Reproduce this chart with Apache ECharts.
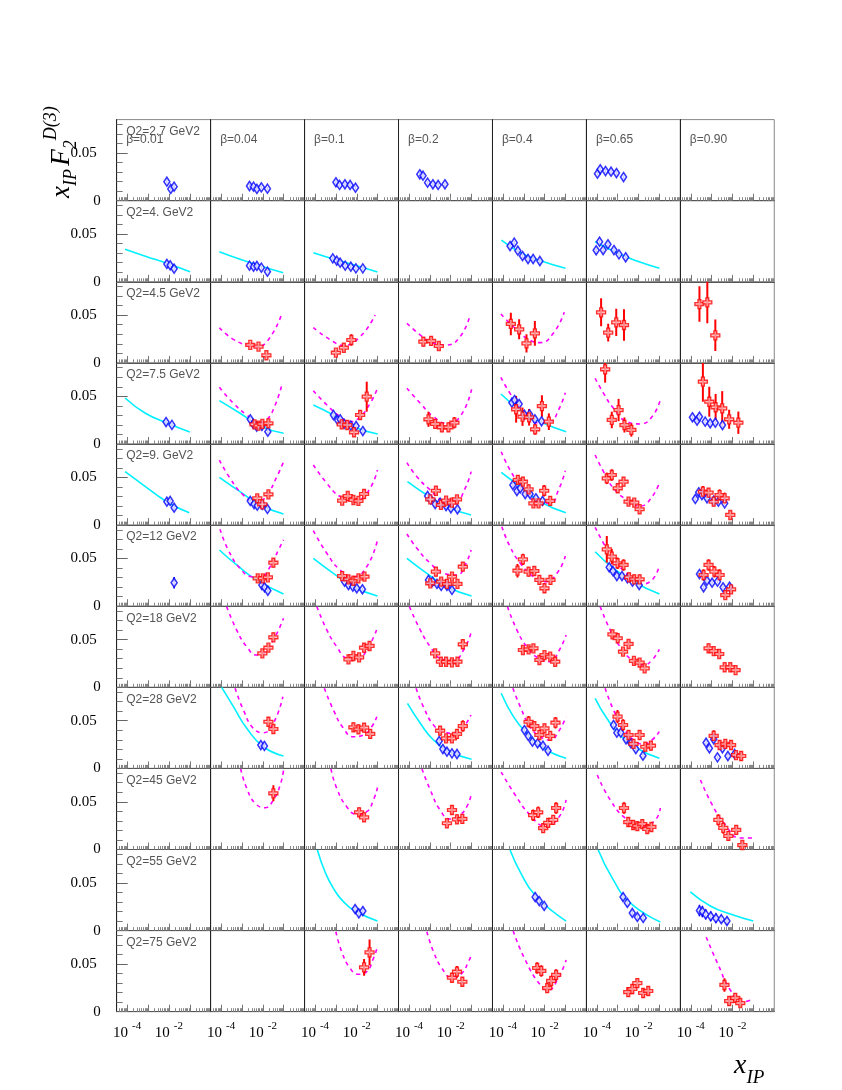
<!DOCTYPE html>
<html>
<head>
<meta charset="utf-8">
<title>xIP F2D(3)</title>
<script src="https://cdn.jsdelivr.net/npm/echarts@6/dist/echarts.min.js"></script>
<style>
  html, body { margin: 0; padding: 0; background: #fff; }
  #chart { width: 842px; height: 1090px; }
</style>
</head>
<body>
<div id="chart"></div>
<script>
// panel labels
const q2Labels = ['Q2=2.7 GeV2', 'Q2=4. GeV2', 'Q2=4.5 GeV2', 'Q2=7.5 GeV2', 'Q2=9. GeV2', 'Q2=12 GeV2',
  'Q2=18 GeV2', 'Q2=28 GeV2', 'Q2=45 GeV2', 'Q2=55 GeV2', 'Q2=75 GeV2'];
const betaLabels = ['β=0.01', 'β=0.04', 'β=0.1', 'β=0.2', 'β=0.4', 'β=0.65', 'β=0.90'];
const xTickLabels = [-4, -2];          // labelled decades of x_IP
const yTickLabels = [0, 0.05];

// [row, col, xIP, value, error]
const redPoints = [
  [2,1,2.5e-3,0.0188,0.003],[2,1,6.2e-3,0.017,0.003],[2,1,1.48e-2,0.008,0.003],
  [2,2,1.0e-3,0.0107,0.003],[2,2,2.4e-3,0.0159,0.004],[2,2,5.5e-3,0.024,0.006],
  [2,3,4.9e-4,0.0222,0.005],[2,3,1.15e-3,0.023,0.005],[2,3,2.7e-3,0.0177,0.004],
  [2,4,2.4e-4,0.0408,0.0117],[2,4,6.0e-4,0.0352,0.0105],[2,4,1.35e-3,0.0205,0.0096],[2,4,3.4e-3,0.031,0.013],
  [2,5,1.6e-4,0.053,0.0147],[2,5,3.5e-4,0.0317,0.0094],[2,5,8.5e-4,0.0425,0.0143],[2,5,2.0e-3,0.0397,0.0166],
  [2,6,2.6e-4,0.0617,0.0187],[2,6,6.2e-4,0.0635,0.022],[2,6,1.5e-3,0.0289,0.0165],

  [3,1,4.0e-3,0.0206,0.004],[3,1,6.2e-3,0.0192,0.004],[3,1,9.5e-3,0.021,0.004],[3,1,1.85e-2,0.0217,0.004],
  [3,2,1.9e-3,0.0206,0.005],[3,2,3.5e-3,0.0199,0.005],[3,2,7.4e-3,0.0123,0.004],[3,2,1.45e-2,0.0304,0.005],[3,2,3.0e-2,0.0496,0.0157],
  [3,3,8.6e-4,0.0259,0.0079],[3,3,1.8e-3,0.021,0.005],[3,3,3.8e-3,0.0175,0.005],[3,3,7.8e-3,0.0175,0.005],[3,3,1.5e-2,0.0223,0.006],
  [3,4,4.3e-4,0.0364,0.014],[3,4,8.7e-4,0.0286,0.0096],[3,4,1.8e-3,0.028,0.0087],[3,4,3.5e-3,0.0154,0.0056],[3,4,7.4e-3,0.0398,0.0113],[3,4,1.59e-2,0.0234,0.0087],
  [3,5,2.5e-4,0.0783,0.014],[3,5,5.2e-4,0.0252,0.0087],[3,5,1.1e-3,0.0356,0.0117],[3,5,2.1e-3,0.0199,0.0079],[3,5,4.5e-3,0.0147,0.007],
  [3,6,3.8e-4,0.0653,0.021],[3,6,7.7e-4,0.0443,0.0157],[3,6,1.55e-3,0.0385,0.014],[3,6,3.2e-3,0.0374,0.018],[3,6,6.9e-3,0.0259,0.01],[3,6,1.9e-2,0.0223,0.0117],

  [4,1,5.4e-3,0.0281,0.004],[4,1,9.4e-3,0.0218,0.004],[4,1,1.85e-2,0.0323,0.004],
  [4,2,2.0e-3,0.0256,0.004],[4,2,3.7e-3,0.0305,0.004],[4,2,6.9e-3,0.0263,0.004],[4,2,1.2e-2,0.0253,0.004],[4,2,2.24e-2,0.0326,0.005],
  [4,3,1.05e-3,0.027,0.004],[4,3,1.95e-3,0.036,0.004],[4,3,3.4e-3,0.0211,0.004],[4,3,6.0e-3,0.0256,0.004],[4,3,1.14e-2,0.0235,0.004],[4,3,2.0e-2,0.027,0.004],
  [4,4,5.2e-4,0.0473,0.005],[4,4,9.1e-4,0.0455,0.005],[4,4,1.7e-3,0.0375,0.005],[4,4,2.9e-3,0.0228,0.004],[4,4,5.1e-3,0.0228,0.004],[4,4,9.5e-3,0.036,0.006],[4,4,1.85e-2,0.0253,0.005],
  [4,5,3.0e-4,0.049,0.006],[4,5,5.2e-4,0.0525,0.006],[4,5,1.0e-3,0.0386,0.005],[4,5,1.9e-3,0.0455,0.005],[4,5,3.3e-3,0.0245,0.004],[4,5,6.2e-3,0.0235,0.004],[4,5,1.12e-2,0.0166,0.004],
  [4,6,3.8e-4,0.035,0.006],[4,6,7.1e-4,0.034,0.005],[4,6,1.25e-3,0.0245,0.005],[4,6,2.4e-3,0.0315,0.006],[4,6,4.2e-3,0.0281,0.006],[4,6,7.8e-3,0.0106,0.004],

  [5,1,5.7e-3,0.0292,0.004],[5,1,1.0e-2,0.0292,0.004],[5,1,1.74e-2,0.0303,0.004],[5,1,3.2e-2,0.0456,0.005],
  [5,2,2.0e-3,0.0316,0.004],[5,2,4.0e-3,0.0282,0.004],[5,2,6.9e-3,0.0267,0.004],[5,2,1.2e-2,0.0292,0.004],[5,2,2.34e-2,0.0309,0.004],
  [5,3,1.05e-3,0.024,0.004],[5,3,1.95e-3,0.0362,0.005],[5,3,3.5e-3,0.0257,0.004],[5,3,6.6e-3,0.0233,0.004],[5,3,1.15e-2,0.0309,0.004],[5,3,2.1e-2,0.0233,0.004],[5,3,3.8e-2,0.0414,0.005],
  [5,4,5.0e-4,0.0372,0.007],[5,4,9.1e-4,0.0491,0.006],[5,4,1.7e-3,0.0362,0.005],[5,4,3.2e-3,0.0369,0.005],[5,4,5.6e-3,0.0275,0.005],[5,4,9.8e-3,0.0188,0.005],[5,4,1.9e-2,0.0275,0.005],
  [5,5,3.0e-4,0.0596,0.014],[5,5,5.2e-4,0.0519,0.008],[5,5,9.8e-4,0.045,0.006],[5,5,1.9e-3,0.0432,0.006],[5,5,3.5e-3,0.0303,0.005],[5,5,6.2e-3,0.0282,0.005],[5,5,1.12e-2,0.0282,0.005],
  [5,6,4.1e-4,0.0327,0.006],[5,6,7.1e-4,0.0432,0.006],[5,6,1.35e-3,0.0362,0.006],[5,6,2.4e-3,0.0327,0.006],[5,6,4.5e-3,0.0117,0.004],[5,6,8.5e-3,0.0177,0.004],

  [6,1,9.5e-3,0.0356,0.004],[6,1,1.85e-2,0.0415,0.004],[6,1,3.2e-2,0.0524,0.005],
  [6,2,4.0e-3,0.0293,0.004],[6,2,6.9e-3,0.0328,0.004],[6,2,1.29e-2,0.0314,0.004],[6,2,2.24e-2,0.0415,0.005],[6,2,4.1e-2,0.0433,0.005],
  [6,3,1.8e-3,0.0356,0.004],[6,3,3.4e-3,0.0268,0.004],[6,3,6.0e-3,0.0268,0.004],[6,3,1.14e-2,0.0262,0.004],[6,3,2.1e-2,0.0268,0.004],[6,3,3.8e-2,0.0451,0.005],
  [6,4,9.1e-4,0.0391,0.004],[6,4,1.7e-3,0.0398,0.004],[6,4,2.9e-3,0.0409,0.004],[6,4,5.6e-3,0.0286,0.004],[6,4,9.8e-3,0.0338,0.004],[6,4,1.85e-2,0.0321,0.004],[6,4,3.2e-2,0.0268,0.004],
  [6,5,5.6e-4,0.0555,0.005],[6,5,1.0e-3,0.0514,0.005],[6,5,1.8e-3,0.0373,0.004],[6,5,3.3e-3,0.0454,0.004],[6,5,6.0e-3,0.0276,0.004],[6,5,1.12e-2,0.0258,0.004],[6,5,1.95e-2,0.0199,0.004],
  [6,6,7.1e-4,0.0409,0.005],[6,6,1.25e-3,0.038,0.004],[6,6,2.3e-3,0.0349,0.004],[6,6,4.2e-3,0.021,0.004],[6,6,7.8e-3,0.021,0.004],[6,6,1.4e-2,0.0181,0.004],

  [7,1,1.85e-2,0.0489,0.005],[7,1,3.2e-2,0.0413,0.005],
  [7,2,6.9e-3,0.0431,0.005],[7,2,1.2e-2,0.041,0.005],[7,2,2.24e-2,0.0427,0.005],[7,2,4.4e-2,0.0361,0.005],
  [7,3,3.1e-3,0.0395,0.005],[7,3,6.0e-3,0.0315,0.004],[7,3,1.14e-2,0.0315,0.004],[7,3,2.0e-2,0.0361,0.005],[7,3,3.8e-2,0.0444,0.006],
  [7,4,1.7e-3,0.0489,0.006],[7,4,3.2e-3,0.0444,0.005],[7,4,5.6e-3,0.035,0.005],[7,4,9.8e-3,0.042,0.005],[7,4,1.85e-2,0.034,0.005],[7,4,3.3e-2,0.0479,0.006],
  [7,5,9.8e-4,0.0542,0.007],[7,5,1.8e-3,0.0455,0.006],[7,5,3.3e-3,0.035,0.005],[7,5,5.7e-3,0.0256,0.004],[7,5,1.12e-2,0.035,0.005],[7,5,2.1e-2,0.0227,0.004],[7,5,3.9e-2,0.0238,0.005],
  [7,6,1.25e-3,0.034,0.006],[7,6,2.4e-3,0.0245,0.005],[7,6,4.5e-3,0.0256,0.005],[7,6,8.5e-3,0.0245,0.005],[7,6,1.48e-2,0.014,0.004],[7,6,2.6e-2,0.013,0.005],

  [8,1,3.2e-2,0.0589,0.0084],
  [8,2,1.29e-2,0.039,0.005],[8,2,2.24e-2,0.0337,0.005],
  [8,3,6.6e-3,0.0275,0.004],[8,3,1.15e-2,0.0414,0.005],[8,3,2.0e-2,0.0316,0.005],[8,3,3.6e-2,0.032,0.005],
  [8,4,2.8e-3,0.036,0.006],[8,4,4.9e-3,0.039,0.006],[8,4,8.5e-3,0.0225,0.005],[8,4,1.48e-2,0.028,0.005],[8,4,2.57e-2,0.031,0.005],[8,4,3.55e-2,0.0435,0.006],
  [8,5,2.0e-3,0.0435,0.006],[8,5,3.2e-3,0.0288,0.005],[8,5,5.5e-3,0.0257,0.005],[8,5,8.7e-3,0.0246,0.005],[8,5,1.5e-2,0.0267,0.005],[8,5,2.6e-2,0.0215,0.005],[8,5,4.1e-2,0.0236,0.005],
  [8,6,2.1e-3,0.031,0.006],[8,6,3.6e-3,0.0226,0.006],[8,6,6.3e-3,0.0142,0.005],[8,6,1.5e-2,0.0205,0.005],[8,6,2.95e-2,0.0047,0.004],

  [10,2,2.24e-2,0.0465,0.0087],[10,2,4.1e-2,0.0622,0.0136],
  [10,3,1.15e-2,0.0356,0.005],[10,3,2.0e-2,0.0419,0.006],[10,3,3.6e-2,0.0314,0.005],
  [10,4,4.4e-3,0.0458,0.006],[10,4,6.9e-3,0.0427,0.006],[10,4,1.32e-2,0.0248,0.005],[10,4,2.05e-2,0.0322,0.005],[10,4,3.55e-2,0.0385,0.006],
  [10,5,3.2e-3,0.0206,0.005],[10,5,5.0e-3,0.0238,0.005],[10,5,8.7e-3,0.03,0.005],[10,5,1.66e-2,0.0196,0.005],[10,5,2.9e-2,0.0217,0.005],
  [10,6,4.1e-3,0.028,0.007],[10,6,6.9e-3,0.0112,0.005],[10,6,1.35e-2,0.0144,0.005],[10,6,2.35e-2,0.0091,0.004]
];

// [row, col, xIP, value, error]
const bluePoints = [
  [0,0,8e-3,0.0199,0.002],[0,0,1.23e-2,0.0123,0.002],[0,0,1.78e-2,0.0147,0.003],
  [0,1,2.3e-3,0.0154,0.002],[0,1,3.6e-3,0.0147,0.002],[0,1,5.2e-3,0.0123,0.002],[0,1,8.5e-3,0.014,0.002],[0,1,1.66e-2,0.0126,0.002],
  [0,2,1.0e-3,0.0193,0.002],[0,2,1.5e-3,0.0165,0.002],[0,2,2.7e-3,0.0172,0.002],[0,2,4.8e-3,0.0165,0.002],[0,2,8.7e-3,0.0136,0.002],
  [0,3,3.3e-4,0.0277,0.002],[0,3,4.7e-4,0.0262,0.002],[0,3,7.8e-4,0.0189,0.002],[0,3,1.4e-3,0.0172,0.002],[0,3,2.5e-3,0.0165,0.002],[0,3,5.3e-3,0.0172,0.002],
  [0,5,1.07e-4,0.0283,0.002],[0,5,1.45e-4,0.0329,0.002],[0,5,2.6e-4,0.0311,0.002],[0,5,4.8e-4,0.0304,0.002],[0,5,8.7e-4,0.029,0.002],[0,5,1.9e-3,0.0248,0.002],

  [1,0,8e-3,0.0187,0.002],[1,0,1.15e-2,0.0173,0.002],[1,0,1.78e-2,0.0137,0.002],
  [1,1,2.3e-3,0.0169,0.002],[1,1,3.6e-3,0.0158,0.002],[1,1,5.2e-3,0.0166,0.002],[1,1,8.5e-3,0.0148,0.002],[1,1,1.66e-2,0.0106,0.002],
  [1,2,7.1e-4,0.0246,0.002],[1,2,1.1e-3,0.0221,0.002],[1,2,1.6e-3,0.02,0.002],[1,2,2.8e-3,0.0169,0.002],[1,2,5.2e-3,0.0158,0.002],[1,2,9.1e-3,0.0141,0.002],[1,2,1.95e-2,0.0141,0.002],
  [1,4,2.2e-4,0.0375,0.002],[1,4,3.5e-4,0.041,0.002],[1,4,5.2e-4,0.0326,0.002],[1,4,8.7e-4,0.027,0.002],[1,4,1.6e-3,0.0239,0.002],[1,4,2.8e-3,0.0239,0.002],[1,4,5.9e-3,0.0218,0.002],
  [1,5,9.3e-5,0.033,0.002],[1,5,1.35e-4,0.042,0.002],[1,5,2.0e-4,0.0333,0.002],[1,5,3.4e-4,0.0393,0.002],[1,5,6.6e-4,0.0333,0.002],[1,5,1.15e-3,0.0288,0.002],[1,5,2.4e-3,0.0257,0.002],

  [3,0,7.3e-3,0.023,0.002],[3,0,1.4e-2,0.02,0.002],
  [3,1,2.5e-3,0.0259,0.002],[3,1,3.5e-3,0.021,0.002],[3,1,5.1e-3,0.0181,0.002],[3,1,9.1e-3,0.0189,0.002],[3,1,1.74e-2,0.0129,0.002],
  [3,2,7.6e-4,0.0304,0.002],[3,2,1.2e-3,0.0252,0.002],[3,2,1.6e-3,0.0259,0.002],[3,2,2.5e-3,0.021,0.002],[3,2,5.2e-3,0.0192,0.002],[3,2,9.3e-3,0.0189,0.002],[3,2,1.95e-2,0.0136,0.002],
  [3,4,2.7e-4,0.0433,0.002],[3,4,3.6e-4,0.0461,0.002],[3,4,6.0e-4,0.0419,0.002],[3,4,1.07e-3,0.0307,0.002],[3,4,1.9e-3,0.0311,0.002],[3,4,3.4e-3,0.0259,0.002],[3,4,7.1e-3,0.0238,0.002],
  [3,6,1.2e-4,0.028,0.002],[3,6,2.0e-4,0.0244,0.002],[3,6,2.6e-4,0.0286,0.002],[3,6,4.9e-4,0.0234,0.002],[3,6,8.5e-4,0.0217,0.002],[3,6,1.5e-3,0.0223,0.002],[3,6,3.3e-3,0.0199,0.002],

  [4,0,8e-3,0.0245,0.002],[4,0,1.15e-2,0.0253,0.002],[4,0,1.78e-2,0.0182,0.003],
  [4,1,2.5e-3,0.0253,0.002],[4,1,3.8e-3,0.0221,0.002],[4,1,5.4e-3,0.0203,0.002],[4,1,9.4e-3,0.0211,0.002],[4,1,1.66e-2,0.0169,0.002],
  [4,3,7.8e-4,0.0305,0.002],[4,3,1.1e-3,0.027,0.002],[4,3,1.8e-3,0.0221,0.002],[4,3,3.1e-3,0.0235,0.002],[4,3,6.0e-3,0.02,0.002],[4,3,1.02e-2,0.0176,0.002],[4,3,2.1e-2,0.0166,0.002],
  [4,4,3.0e-4,0.042,0.002],[4,4,4.7e-4,0.0357,0.002],[4,4,6.8e-4,0.0386,0.002],[4,4,1.17e-3,0.0326,0.002],[4,4,2.0e-3,0.0326,0.002],[4,4,3.8e-3,0.0281,0.002],[4,4,7.9e-3,0.0253,0.002],
  [4,6,1.65e-4,0.0274,0.002],[4,6,2.4e-4,0.0344,0.002],[4,6,3.4e-4,0.0315,0.002],[4,6,6.0e-4,0.0281,0.002],[4,6,1.25e-3,0.0256,0.002],[4,6,2.1e-3,0.0245,0.002],[4,6,4.2e-3,0.0228,0.002],

  [5,0,1.78e-2,0.0246,0.006],
  [5,1,9.0e-3,0.0222,0.002],[5,1,1.21e-2,0.0198,0.002],[5,1,1.74e-2,0.0162,0.002],
  [5,2,2.6e-3,0.0257,0.002],[5,2,4.0e-3,0.0222,0.002],[5,2,6.5e-3,0.0204,0.002],[5,2,1.0e-2,0.0188,0.002],[5,2,1.86e-2,0.0177,0.002],
  [5,3,8.6e-4,0.0275,0.002],[5,3,1.35e-3,0.0257,0.002],[5,3,2.2e-3,0.0233,0.002],[5,3,3.5e-3,0.0212,0.002],[5,3,6.6e-3,0.0212,0.002],[5,3,1.15e-2,0.017,0.002],
  [5,5,3.9e-4,0.0408,0.002],[5,5,5.9e-4,0.0369,0.002],[5,5,9.1e-4,0.0316,0.002],[5,5,1.6e-3,0.0316,0.002],[5,5,2.9e-3,0.0292,0.002],[5,5,5.1e-3,0.0257,0.002],[5,5,1.07e-2,0.0222,0.002],
  [5,6,2.6e-4,0.0337,0.002],[5,6,4.1e-4,0.0198,0.002],[5,6,6.0e-4,0.0267,0.002],[5,6,1.05e-3,0.0246,0.002],[5,6,1.9e-3,0.0257,0.002],[5,6,3.5e-3,0.0198,0.002],[5,6,7.2e-3,0.0204,0.002],

  [7,1,8.0e-3,0.0245,0.002],[7,1,1.19e-2,0.0235,0.002],
  [7,3,2.8e-3,0.0287,0.002],[7,3,4.2e-3,0.0203,0.002],[7,3,6.6e-3,0.0175,0.002],[7,3,1.15e-2,0.0158,0.002],[7,3,2.0e-2,0.0151,0.002],
  [7,4,1.07e-3,0.0402,0.002],[7,4,1.65e-3,0.034,0.002],[7,4,2.6e-3,0.028,0.002],[7,4,4.6e-3,0.0263,0.002],[7,4,8.3e-3,0.0238,0.002],[7,4,1.45e-2,0.0185,0.002],
  [7,5,6.3e-4,0.0455,0.002],[7,5,9.1e-4,0.0374,0.002],[7,5,1.4e-3,0.0374,0.002],[7,5,2.5e-3,0.0305,0.002],[7,5,4.3e-3,0.0263,0.002],[7,5,7.4e-3,0.0203,0.002],[7,5,1.62e-2,0.0133,0.002],
  [7,6,5.4e-4,0.0269,0.002],[7,6,7.8e-4,0.0211,0.002],[7,6,1.25e-3,0.0305,0.002],[7,6,1.9e-3,0.0116,0.002],[7,6,3.3e-3,0.0211,0.002],[7,6,6.0e-3,0.013,0.002],[7,6,1.26e-2,0.0151,0.002],

  [9,2,8.3e-3,0.0226,0.003],[9,2,1.26e-2,0.0181,0.003],[9,2,1.95e-2,0.0205,0.003],
  [9,4,3.5e-3,0.0352,0.003],[9,4,5.5e-3,0.031,0.003],[9,4,9.5e-3,0.0259,0.003],
  [9,5,1.8e-3,0.0352,0.004],[9,5,2.9e-3,0.029,0.004],[9,5,5.0e-3,0.0185,0.003],[9,5,8.7e-3,0.0143,0.003],[9,5,1.66e-2,0.0133,0.003],
  [9,6,2.6e-4,0.021,0.006],[9,6,3.6e-4,0.02,0.006],[9,6,5.2e-4,0.017,0.005],[9,6,9.0e-4,0.015,0.005],[9,6,1.6e-3,0.013,0.005],[9,6,2.9e-3,0.012,0.004],[9,6,5.4e-3,0.01,0.004]
];

// model curves, sampled along the drawn line: [row, col, xIP, value]
const cyanCurves = [
  [1,0,7.9e-5,0.034],[1,0,8.7e-4,0.0263],[1,0,7.9e-3,0.0194],[1,0,0.102,0.0106],
  [1,1,8.3e-5,0.0315],[1,1,8.1e-4,0.0236],[1,1,7.2e-3,0.0169],[1,1,0.095,0.0095],
  [1,2,8.3e-5,0.0305],[1,2,7.6e-4,0.0239],[1,2,0.01,0.0169],[1,2,0.098,0.0103],
  [1,4,8.5e-5,0.0438],[1,4,9.8e-4,0.0288],[1,4,8.9e-3,0.0211],[1,4,0.1,0.0141],
  [1,5,8.3e-5,0.042],[1,5,1.3e-3,0.0288],[1,5,8.3e-3,0.0218],[1,5,0.1,0.0141],
  [3,0,8e-5,0.0482],[3,0,7.2e-4,0.0325],[3,0,8.1e-3,0.022],[3,0,0.1,0.0126],
  [3,1,8.3e-5,0.0454],[3,1,8.1e-4,0.0322],[3,1,7.4e-3,0.0189],[3,1,0.098,0.0112],
  [3,2,8.3e-5,0.0409],[3,2,7.6e-4,0.0304],[3,2,6.9e-3,0.0181],[3,2,0.1,0.0105],
  [3,4,8e-5,0.0524],[3,4,6.8e-4,0.0356],[3,4,6.2e-3,0.0234],[3,4,0.107,0.0129],
  [4,0,8e-5,0.056],[4,0,6e-4,0.042],[4,0,7.9e-3,0.0245],[4,0,0.095,0.013],
  [4,1,8.3e-5,0.0501],[4,1,8.1e-4,0.035],[4,1,7.4e-3,0.0211],[4,1,0.098,0.0116],
  [4,3,8.5e-5,0.0455],[4,3,7.2e-4,0.0315],[4,3,6.6e-3,0.0193],[4,3,0.095,0.0106],
  [4,4,8.3e-5,0.0553],[4,4,6.8e-4,0.0402],[4,4,6.2e-3,0.0245],[4,4,0.104,0.013],
  [5,1,8.3e-5,0.0589],[5,1,5.6e-4,0.0432],[5,1,5.1e-3,0.0275],[5,1,0.098,0.0128],
  [5,2,8.3e-5,0.0502],[5,2,7.6e-4,0.0345],[5,2,6.9e-3,0.0204],[5,2,0.098,0.0107],
  [5,3,8e-5,0.0502],[5,3,7.2e-4,0.0345],[5,3,6.6e-3,0.0204],[5,3,0.1,0.0107],
  [5,5,8.3e-5,0.0571],[5,5,6.3e-4,0.0397],[5,5,5.7e-3,0.0257],[5,5,0.1,0.0128],
  [7,1,1.07e-4,0.085],[7,1,3.9e-4,0.0647],[7,1,1.7e-3,0.042],[7,1,0.0107,0.0227],[7,1,0.098,0.013],
  [7,3,8.5e-5,0.0682],[7,3,3.5e-4,0.0473],[7,3,1.5e-3,0.0298],[7,3,9.3e-3,0.0175],[7,3,0.1,0.0095],
  [7,4,8.3e-5,0.0787],[7,4,3.2e-4,0.0542],[7,4,1.4e-3,0.0368],[7,4,8.9e-3,0.0211],[7,4,0.107,0.0106],
  [7,5,8.3e-5,0.0735],[7,5,3.0e-4,0.0525],[7,5,1.3e-3,0.035],[7,5,8.3e-3,0.0211],[7,5,0.1,0.0106],
  [9,2,1.3e-4,0.0845],[9,2,3.0e-4,0.0617],[9,2,7.6e-4,0.0443],[9,2,2.3e-3,0.0303],[9,2,0.01,0.0198],[9,2,0.098,0.0101],
  [9,4,2.2e-4,0.0845],[9,4,6.8e-4,0.0614],[9,4,3.5e-3,0.037],[9,4,0.107,0.01],
  [9,5,1.17e-4,0.0845],[9,5,5.5e-4,0.055],[9,5,4e-3,0.029],[9,5,0.11,0.009],
  [9,6,9.5e-5,0.0405],[9,6,8.6e-4,0.0258],[9,6,7.8e-3,0.0174],[9,6,0.098,0.01]
];

const magentaCurves = [
  [2,1,8.3e-5,0.0369],[2,1,3.9e-4,0.0247],[2,1,2.5e-3,0.0177],[2,1,4.3e-3,0.017],[2,1,0.0155,0.0222],[2,1,0.078,0.0502],
  [2,2,8.3e-5,0.0369],[2,2,7.6e-4,0.0222],[2,2,2.3e-3,0.0184],[2,2,0.0145,0.0275],[2,2,0.076,0.0502],
  [2,3,8e-5,0.0415],[2,3,3.5e-4,0.0292],[2,3,1.5e-3,0.0205],[2,3,6.6e-3,0.0188],[2,3,0.028,0.0275],[2,3,0.079,0.0478],
  [2,4,8e-5,0.0512],[2,4,3.2e-4,0.0379],[2,4,1.4e-3,0.0258],[2,4,6.2e-3,0.0212],[2,4,0.026,0.031],[2,4,0.087,0.053],
  [3,1,8.3e-5,0.0594],[3,1,3.9e-4,0.0427],[3,1,1.7e-3,0.0304],[3,1,6.2e-3,0.0217],[3,1,0.0155,0.0252],[3,1,0.039,0.0409],[3,1,0.081,0.0618],
  [3,2,8.3e-5,0.0559],[3,2,3.7e-4,0.0409],[3,2,1.6e-3,0.0286],[3,2,4.8e-3,0.0234],[3,2,0.0145,0.0286],[3,2,0.044,0.0427],[3,2,0.091,0.0566],
  [3,3,8e-5,0.0584],[3,3,3.5e-4,0.0427],[3,3,1.5e-3,0.0286],[3,3,6.6e-3,0.0217],[3,3,0.028,0.0286],[3,3,0.1,0.0573],
  [3,4,8e-5,0.0699],[3,4,2.2e-4,0.0531],[3,4,9.8e-4,0.0339],[3,4,4.3e-3,0.0223],[3,4,0.0185,0.0234],[3,4,0.046,0.0356],[3,4,0.098,0.0538],
  [3,5,8.3e-5,0.0689],[3,5,2.1e-4,0.0531],[3,5,6.3e-4,0.0374],[3,5,2.8e-3,0.0234],[3,5,0.012,0.021],[3,5,0.044,0.0286],[3,5,0.11,0.0461],
  [4,1,8.3e-5,0.0682],[4,1,2.7e-4,0.049],[4,1,1.17e-3,0.0315],[4,1,5.1e-3,0.0235],[4,1,0.0155,0.0315],[4,1,0.047,0.0507],[4,1,0.098,0.0664],
  [4,2,8.3e-5,0.063],[4,2,3.7e-4,0.0438],[4,2,1.6e-3,0.0298],[4,2,6.9e-3,0.0256],[4,2,0.03,0.0333],[4,2,0.098,0.0577],
  [4,3,8e-5,0.0654],[4,3,2.4e-4,0.0507],[4,3,1.05e-3,0.0368],[4,3,4.5e-3,0.0263],[4,3,0.02,0.027],[4,3,0.049,0.0386],[4,3,0.095,0.056],
  [4,4,8.3e-5,0.0769],[4,4,2.2e-4,0.0577],[4,4,9.8e-4,0.0368],[4,4,4.3e-3,0.0245],[4,4,0.0185,0.0228],[4,4,0.046,0.0368],[4,4,0.098,0.057],
  [4,5,8.3e-5,0.0735],[4,5,2.1e-4,0.056],[4,5,6.3e-4,0.0386],[4,5,2.8e-3,0.0263],[4,5,0.012,0.02],[4,5,0.036,0.027],[4,5,0.1,0.0444],
  [5,1,8.9e-5,0.0806],[5,1,2.2e-4,0.0589],[5,1,8.1e-4,0.0397],[5,1,2.9e-3,0.0309],[5,1,7.4e-3,0.0303],[5,1,0.0224,0.0414],[5,1,0.056,0.0589],[5,1,0.098,0.0694],
  [5,2,8.3e-5,0.0791],[5,2,3.7e-4,0.0554],[5,2,1.6e-3,0.0379],[5,2,6.9e-3,0.0309],[5,2,0.03,0.0414],[5,2,0.098,0.0694],
  [5,3,8e-5,0.0757],[5,3,2.4e-4,0.0607],[5,3,1.05e-3,0.045],[5,3,4.5e-3,0.0345],[5,3,0.02,0.0327],[5,3,0.049,0.0432],[5,3,0.095,0.0589],
  [5,4,8.9e-5,0.0833],[5,4,2.2e-4,0.0624],[5,4,6.8e-4,0.045],[5,4,2.9e-3,0.0309],[5,4,0.0107,0.0257],[5,4,0.039,0.0345],[5,4,0.098,0.0526],
  [5,5,8.3e-5,0.0827],[5,5,2.1e-4,0.0659],[5,5,6.3e-4,0.0484],[5,5,2.8e-3,0.0345],[5,5,0.012,0.0233],[5,5,0.044,0.0275],[5,5,0.1,0.0432],
  [6,1,1.86e-4,0.0845],[6,1,5.6e-4,0.06],[6,1,1.7e-3,0.0425],[6,1,5.1e-3,0.0338],[6,1,0.0107,0.0356],[6,1,0.032,0.0496],[6,1,0.098,0.0723],
  [6,2,1.23e-4,0.0845],[6,2,3.7e-4,0.06],[6,2,1.1e-3,0.0425],[6,2,3.3e-3,0.0304],[6,2,0.01,0.0286],[6,2,0.03,0.0391],[6,2,0.091,0.0608],
  [6,3,1.05e-4,0.0845],[6,3,3.5e-4,0.06],[6,3,1.05e-3,0.0425],[6,3,3.1e-3,0.0304],[6,3,0.0135,0.0279],[6,3,0.041,0.0391],[6,3,0.093,0.0566],
  [6,4,1.66e-4,0.0845],[6,4,4.7e-4,0.06],[6,4,1.4e-3,0.0425],[6,4,5.1e-3,0.0304],[6,4,0.0185,0.0268],[6,4,0.046,0.0373],[6,4,0.107,0.0548],
  [6,5,1.45e-4,0.0845],[6,5,4.4e-4,0.06],[6,5,1.3e-3,0.0425],[6,5,4.8e-3,0.0286],[6,5,0.0174,0.0234],[6,5,0.044,0.0286],[6,5,0.098,0.0398],
  [7,1,4.7e-4,0.0839],[7,1,1.17e-3,0.0612],[7,1,3.5e-3,0.042],[7,1,0.0107,0.0374],[7,1,0.032,0.0473],[7,1,0.091,0.0751],
  [7,2,2.8e-4,0.0839],[7,2,7.6e-4,0.0612],[7,2,2.3e-3,0.042],[7,2,6.9e-3,0.0332],[7,2,0.021,0.035],[7,2,0.052,0.0437],[7,2,0.091,0.0542],
  [7,3,2.2e-4,0.0839],[7,3,4.9e-4,0.0647],[7,3,1.5e-3,0.0455],[7,3,4.5e-3,0.0385],[7,3,0.0135,0.0368],[7,3,0.041,0.0437],[7,3,0.093,0.056],
  [7,4,3.0e-4,0.0839],[7,4,6.8e-4,0.0647],[7,4,2.0e-3,0.0437],[7,4,6.2e-3,0.0332],[7,4,0.0185,0.0298],[7,4,0.046,0.0385],[7,4,0.107,0.0542],
  [7,5,2.5e-4,0.0839],[7,5,6.3e-4,0.0612],[7,5,1.9e-3,0.042],[7,5,5.7e-3,0.0298],[7,5,0.0174,0.0256],[7,5,0.044,0.0298],[7,5,0.098,0.0385],
  [8,1,8.7e-4,0.0844],[8,1,1.7e-3,0.0641],[8,1,4.3e-3,0.0484],[8,1,0.0129,0.0438],[8,1,0.032,0.0519],[8,1,0.068,0.0676],[8,1,0.098,0.0833],
  [8,2,5.8e-4,0.0844],[8,2,1.1e-3,0.0641],[8,2,3.3e-3,0.0449],[8,2,0.01,0.0369],[8,2,0.03,0.0396],[8,2,0.063,0.0519],[8,2,0.098,0.0648],
  [8,3,4.2e-4,0.0844],[8,3,1.05e-3,0.0624],[8,3,3.1e-3,0.0414],[8,3,9.3e-3,0.032],[8,3,0.028,0.0362],[8,3,0.059,0.0449],[8,3,0.093,0.0564],
  [8,4,8.3e-5,0.0812],[8,4,3.9e-4,0.0571],[8,4,2e-3,0.0362],[8,4,0.0107,0.0246],[8,4,0.045,0.033],[8,4,0.107,0.0519],
  [8,5,1.05e-4,0.0781],[8,5,4.4e-4,0.0519],[8,5,2.3e-3,0.033],[8,5,0.015,0.0246],[8,5,0.063,0.0309],[8,5,0.11,0.0435],
  [8,6,2.9e-4,0.0729],[8,6,1.07e-3,0.0467],[8,6,4.5e-3,0.0257],[8,6,0.0235,0.012],[8,6,0.089,0.012],
  [10,2,1.0e-3,0.0838],[10,2,1.9e-3,0.0629],[10,2,4.8e-3,0.0455],[10,2,0.012,0.0392],[10,2,0.03,0.0419],[10,2,0.063,0.056],[10,2,0.098,0.0681],
  [10,3,7.2e-4,0.0838],[10,3,1.5e-3,0.0629],[10,3,3.8e-3,0.0455],[10,3,0.0115,0.0356],[10,3,0.034,0.0402],[10,3,0.071,0.0524],[10,3,0.1,0.0602],
  [10,4,3.1e-4,0.0847],[10,4,1.17e-3,0.0543],[10,4,6.2e-3,0.028],[10,4,0.0148,0.0228],[10,4,0.045,0.0353],[10,4,0.107,0.0542],
  [10,6,5.5e-4,0.0781],[10,6,2.1e-3,0.0487],[10,6,7.8e-3,0.0227],[10,6,0.0295,0.010],[10,6,0.071,0.0122]
];

// layout (pixels) and axis ranges; x axis runs in log10(x_IP)
const LEFT = 116.7, COLW = 93.94, TOP = 119.6, ROWH = 81.1;
const XMIN = -4.5, XMAX = 0, YMAX = 0.085;
const NROW = 11, NCOL = 7;

const lg = Math.log10;
const majorX = [-4, -3, -2, -1];
const minorX = [];
for (let n = -5; n < 0; n++) {
  for (let k = 2; k <= 9; k++) {
    const v = n + lg(k);
    if (v > XMIN && v < XMAX) minorX.push(v);
  }
}
const minorY = [0.01, 0.02, 0.03, 0.04, 0.06, 0.07, 0.08];

function pick(list, r, c) {
  return list.filter(p => p[0] === r && p[1] === c);
}

function errorBars(pts, color, width, i) {
  return {
    type: 'custom',
    xAxisIndex: 2 * i,
    yAxisIndex: 2 * i,
    clip: true,
    silent: true,
    z: 3,
    encode: { x: 0, y: [1, 2] },
    data: pts.map(p => [lg(p[2]), p[3] - p[4], p[3] + p[4]]),
    renderItem: (params, api) => {
      const a = api.coord([api.value(0), api.value(1)]);
      const b = api.coord([api.value(0), api.value(2)]);
      return {
        type: 'line',
        shape: { x1: a[0], y1: a[1], x2: b[0], y2: b[1] },
        style: { stroke: color, lineWidth: width }
      };
    }
  };
}

const grid = [], xAxis = [], yAxis = [], series = [];

for (let r = 0; r < NROW; r++) {
  for (let c = 0; c < NCOL; c++) {
    const i = r * NCOL + c;
    grid.push({
      left: LEFT + c * COLW, top: TOP + r * ROWH, width: COLW, height: ROWH,
      show: true, borderColor: '#888', borderWidth: 1
    });

    xAxis.push({
      gridIndex: i, type: 'value', position: 'bottom', min: XMIN, max: XMAX,
      axisLine: { show: true, onZero: false, lineStyle: { color: '#555', width: 1 } },
      axisTick: { show: true, inside: true, length: 7, customValues: majorX, lineStyle: { color: '#777' } },
      axisLabel: r === NROW - 1 ? {
        show: true, customValues: xTickLabels, margin: 9,
        formatter: v => '{b|10}{s|' + v + '}',
        rich: {
          b: { fontFamily: 'Liberation Serif', fontSize: 15, color: '#000', verticalAlign: 'bottom' },
          s: { fontFamily: 'Liberation Serif', fontSize: 11, color: '#000', verticalAlign: 'bottom', padding: [0, 0, 9, 4] }
        }
      } : { show: false },
      splitLine: { show: false }
    });
    xAxis.push({
      gridIndex: i, type: 'value', position: 'bottom', min: XMIN, max: XMAX,
      axisLine: { show: false, onZero: false },
      axisTick: { show: true, inside: true, length: 3.5, customValues: minorX, lineStyle: { color: '#888' } },
      axisLabel: { show: false },
      splitLine: { show: false }
    });

    yAxis.push({
      gridIndex: i, type: 'value', position: 'left', min: 0, max: YMAX,
      axisLine: { show: true, onZero: false, lineStyle: { color: '#222', width: 1 } },
      axisTick: c === 0 ? { show: true, inside: true, length: 11, customValues: yTickLabels, lineStyle: { color: '#666' } } : { show: false },
      axisLabel: c === 0 ? {
        show: true, customValues: yTickLabels, margin: 16,
        formatter: v => (v === 0 ? '{z|0}' : '{f|0.05}'),
        rich: {
          z: { fontFamily: 'Liberation Serif', fontSize: 15, color: '#000' },
          f: { fontFamily: 'Liberation Serif', fontSize: 15, color: '#000', padding: [0, 4, 0, 0] }
        }
      } : { show: false },
      splitLine: { show: false }
    });
    yAxis.push({
      gridIndex: i, type: 'value', position: 'left', min: 0, max: YMAX,
      axisLine: { show: false, onZero: false },
      axisTick: c === 0 ? { show: true, inside: true, length: 6, customValues: minorY, lineStyle: { color: '#777' } } : { show: false },
      axisLabel: { show: false },
      splitLine: { show: false }
    });

    const cy = pick(cyanCurves, r, c);
    if (cy.length) {
      series.push({
        type: 'line', xAxisIndex: 2 * i, yAxisIndex: 2 * i, silent: true, z: 2,
        data: cy.map(p => [lg(p[2]), p[3]]),
        smooth: 0.5, symbol: 'none',
        lineStyle: { color: '#00f0ff', width: 1.6 }
      });
    }
    const mg = pick(magentaCurves, r, c);
    if (mg.length) {
      series.push({
        type: 'line', xAxisIndex: 2 * i, yAxisIndex: 2 * i, silent: true, z: 2,
        data: mg.map(p => [lg(p[2]), p[3]]),
        smooth: 0.5, symbol: 'none',
        lineStyle: { color: '#ff00ff', width: 1.6, type: [4, 4] }
      });
    }
    const bl = pick(bluePoints, r, c);
    if (bl.length) {
      series.push(errorBars(bl, '#0000ff', 1.5, i));
      series.push({
        type: 'scatter', xAxisIndex: 2 * i, yAxisIndex: 2 * i, silent: true, z: 4,
        data: bl.map(p => [lg(p[2]), p[3]]),
        symbol: 'diamond', symbolSize: [6, 9],
        itemStyle: { color: '#ffffff', borderColor: '#0000ff', borderWidth: 1.6 }
      });
    }
    const rd = pick(redPoints, r, c);
    if (rd.length) {
      series.push(errorBars(rd, '#ff0000', 2, i));
      series.push({
        type: 'scatter', xAxisIndex: 2 * i, yAxisIndex: 2 * i, silent: true, z: 5,
        data: rd.map(p => [lg(p[2]), p[3]]),
        symbol: 'path://M2.7,0H5.3V2.7H8V5.3H5.3V8H2.7V5.3H0V2.7H2.7Z', symbolSize: 9,
        itemStyle: { color: '#ffb4b4', borderColor: '#ff0000', borderWidth: 1.3 }
      });
    }
  }
}

const labelFont = '12px "Liberation Sans", Arial, sans-serif';
const graphic = [];
q2Labels.forEach((t, r) => {
  graphic.push({ type: 'text', left: LEFT + 9.5, top: TOP + r * ROWH + 6, z: 10,
    style: { text: t, font: labelFont, fill: '#555' } });
});
betaLabels.forEach((t, c) => {
  graphic.push({ type: 'text', left: LEFT + c * COLW + 9.5, top: 134, z: 10,
    style: { text: t, font: labelFont, fill: '#555' } });
});
// axis titles
graphic.push({
  type: 'text', x: 61, y: 198, rotation: Math.PI / 2, z: 10,
  style: {
    text: '{i|x}{sub|IP} {i|F}{sub|2}{sup|D(3)}',
    align: 'left', verticalAlign: 'middle',
    rich: {
      i: { fontFamily: 'Liberation Serif', fontStyle: 'italic', fontSize: 27, fill: '#000', verticalAlign: 'bottom', padding: [0, 0, 5, 0] },
      sub: { fontFamily: 'Liberation Serif', fontStyle: 'italic', fontSize: 18, fill: '#000', verticalAlign: 'bottom' },
      sup: { fontFamily: 'Liberation Serif', fontStyle: 'italic', fontSize: 18, fill: '#000', verticalAlign: 'bottom', padding: [0, 0, 20, 0] }
    }
  }
});
graphic.push({
  type: 'text', left: 734, top: 1052, z: 10,
  style: {
    text: '{i|x}{sub|IP}',
    rich: {
      i: { fontFamily: 'Liberation Serif', fontStyle: 'italic', fontSize: 28, fill: '#000', verticalAlign: 'bottom', padding: [0, 0, 7, 0] },
      sub: { fontFamily: 'Liberation Serif', fontStyle: 'italic', fontSize: 19, fill: '#000', verticalAlign: 'bottom' }
    }
  }
});

const chart = echarts.init(document.getElementById('chart'), null, { renderer: 'canvas' });
chart.setOption({
  animation: false,
  backgroundColor: '#fff',
  grid, xAxis, yAxis, series, graphic
});
</script>
</body>
</html>
